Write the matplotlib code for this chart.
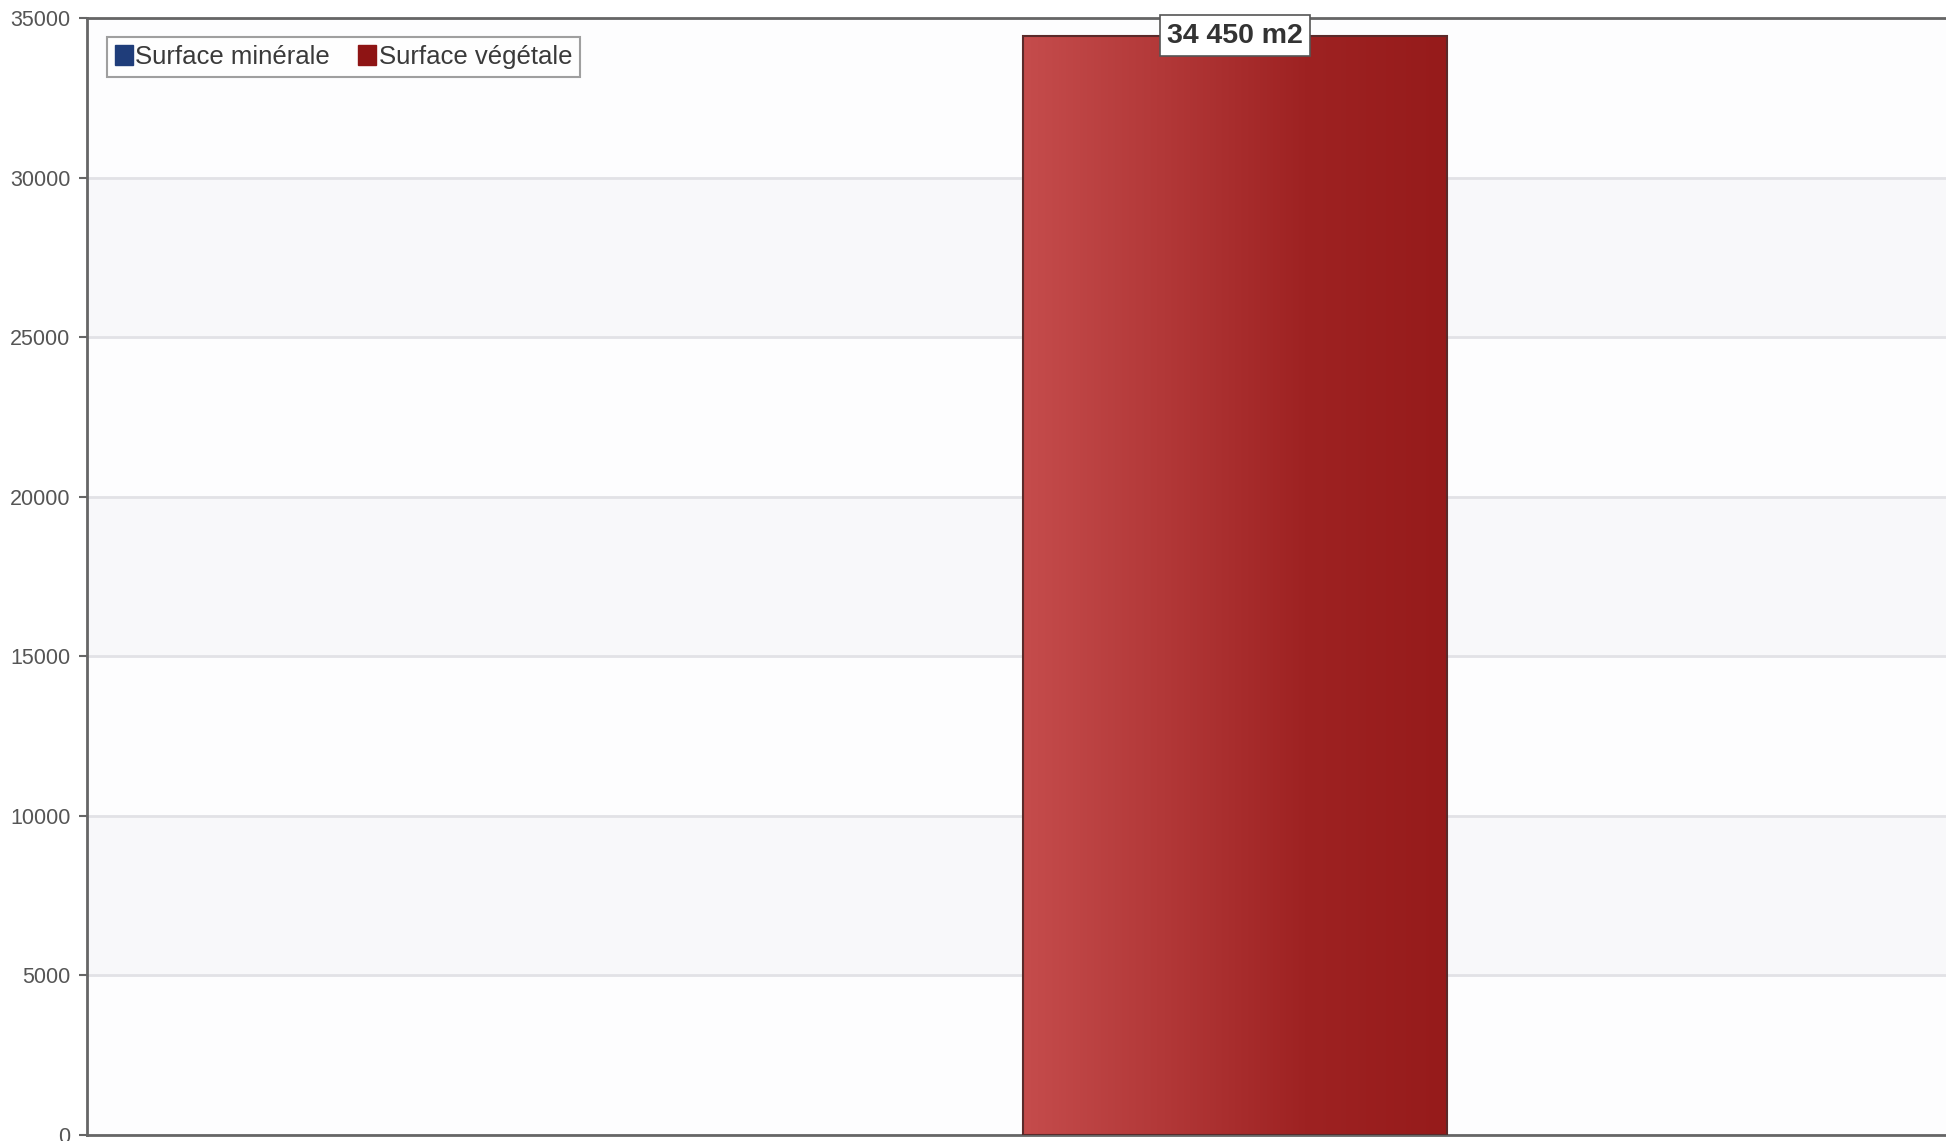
import numpy as np
import matplotlib
matplotlib.use("Agg")
import matplotlib.pyplot as plt
from matplotlib.colors import LinearSegmentedColormap

# data
series = ["Surface minérale", "Surface végétale"]
values = [0, 34450]
series_colors = ["#1f3d7a", "#8e1414"]
yticks = [0, 5000, 10000, 15000, 20000, 25000, 30000, 35000]

plt.rcParams['font.family'] = ['Liberation Sans', 'DejaVu Sans']

fig = plt.figure(figsize=(19.46, 11.41), dpi=100)
ax = fig.add_axes([87 / 1946, 1 - 1135 / 1141, 1 - 87 / 1946, (1135 - 18) / 1141])

# very faint alternating bands behind the grid
for i in range(len(yticks) - 1):
    col = "#f8f8fa" if i % 2 == 1 else "#fdfdfe"
    ax.axhspan(yticks[i], yticks[i + 1], color=col, zorder=0, lw=0)

ax.set_axisbelow(True)
ax.yaxis.grid(True, color="#e2e2e6", linewidth=2)

width = 0.35
x = np.array([-width / 2, width / 2])
bars = ax.bar(x, values, width=width, color=series_colors, edgecolor="#5a2a2a",
              linewidth=1.5, zorder=3)

# horizontal gradient on the bars
grad_cmap = LinearSegmentedColormap.from_list("red_grad", ["#c54c4c", "#b23838", "#9e2222", "#961b1b"])
for b, v in zip(bars, values):
    if v <= 0:
        b.set_linewidth(0)
        continue
    bx, by = b.get_x(), b.get_y()
    bw, bh = b.get_width(), b.get_height()
    b.set_facecolor("none")
    im = ax.imshow(np.linspace(0, 1, 256).reshape(1, -1), cmap=grad_cmap, aspect="auto",
                   extent=(bx, bx + bw, by, by + bh), zorder=2.9)
    im.set_clip_path(b)
    ax.annotate(f"{v:,} m2".replace(",", " "), (bx + bw / 2, by + bh),
                ha="center", va="center", fontsize=20.5, fontweight="bold", color="#333333",
                annotation_clip=False, zorder=5,
                bbox=dict(boxstyle="square,pad=0.25", fc="white", ec="#555555", lw=1.2))

ax.set_xlim(-0.773, 0.762)
ax.set_ylim(0, 35000)
ax.set_yticks(yticks)
ax.set_xticks([])
ax.tick_params(axis="y", labelsize=15.5, labelcolor="#555555", color="#666666",
               length=6, width=1.5, pad=6)

for s in ["left", "bottom", "top"]:
    ax.spines[s].set_color("#666666")
    ax.spines[s].set_linewidth(2)
ax.spines["right"].set_visible(False)

handles = [plt.Rectangle((0, 0), 1, 1, color=c) for c in series_colors]
leg = ax.legend(handles, series, loc="upper left", bbox_to_anchor=(0.0108, 0.983),
                borderaxespad=0, ncol=2, fontsize=18.5, fancybox=False, frameon=True,
                handlelength=0.7, handleheight=0.85, handletextpad=0.1, columnspacing=1.1,
                borderpad=0.3)
leg.get_frame().set_edgecolor("#888888")
leg.get_frame().set_linewidth(1.5)
for t in leg.get_texts():
    t.set_color("#3a3a3a")

fig.savefig("out.png", dpi=100)
